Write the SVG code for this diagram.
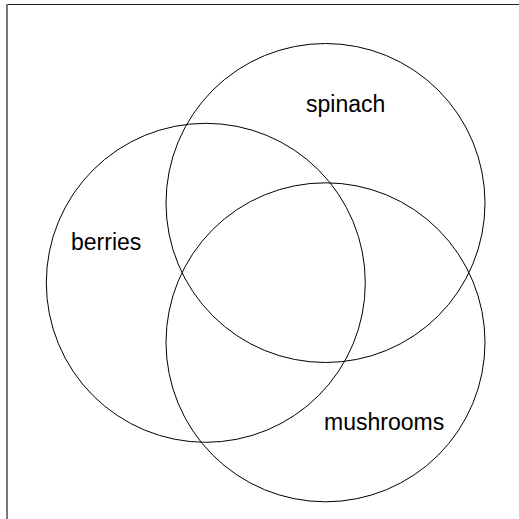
<svg xmlns="http://www.w3.org/2000/svg" width="519" height="519" viewBox="0 0 519 519">
<style>
.set{fill:none;stroke:#000;stroke-width:1}
.lbl{font-family:"Liberation Sans",Arial,sans-serif;font-size:23px;fill:#000}
</style>
<rect width="519" height="519" fill="#fff"/>
<g id="frame">
<line x1="6" y1="4.5" x2="519" y2="4.5" stroke="#222" stroke-width="1.2"/>
<line x1="7" y1="4" x2="7" y2="519" stroke="#777" stroke-width="2"/>
</g>
<g id="spinach">
<circle class="set" cx="325.5" cy="203" r="159.5"/>
<text class="lbl" x="306" y="111.5">spinach</text>
</g>
<g id="berries">
<circle class="set" cx="205.8" cy="282.8" r="159.5"/>
<text class="lbl" x="71" y="250">berries</text>
</g>
<g id="mushrooms">
<circle class="set" cx="325.5" cy="342.3" r="159.5"/>
<text class="lbl" x="324" y="430">mushrooms</text>
</g>
<g id="connectors"/>
</svg>
